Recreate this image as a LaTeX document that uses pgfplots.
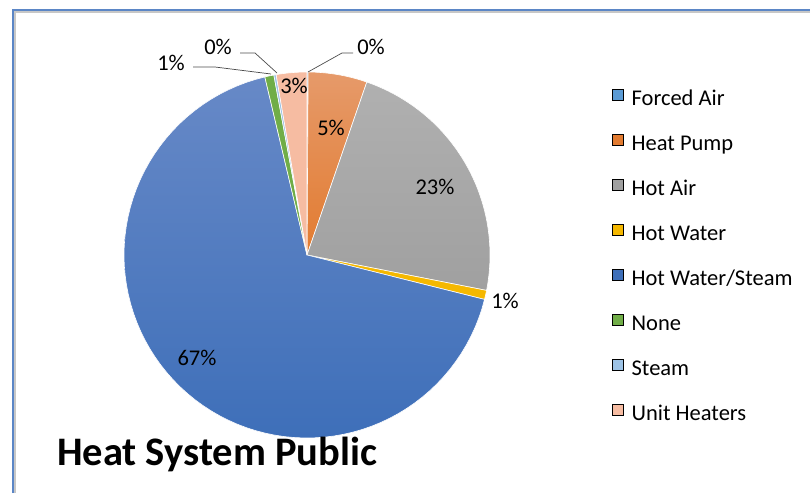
\documentclass[border=0pt]{standalone}
\usepackage{pgfplots}
\pgfplotsset{compat=1.18}
\usepackage{fontspec}
\setmainfont{Carlito}
\definecolor{cforced}{HTML}{5B9BD5}
\definecolor{chp}{HTML}{E27B30}
\definecolor{chpt}{HTML}{E69A6A}
\definecolor{cha}{HTML}{A0A0A0}
\definecolor{chat}{HTML}{B0B0B0}
\definecolor{chw}{HTML}{F5B800}
\definecolor{chws}{HTML}{3E6FB9}
\definecolor{chwst}{HTML}{6789C7}
\definecolor{cnone}{HTML}{70AD47}
\definecolor{csteam}{HTML}{9DC3E6}
\definecolor{cunit}{HTML}{F6BCA2}
\definecolor{cframe}{HTML}{5B86C6}
\def\cx{307}\def\cy{238}\def\R{183}
% #1 = cumulative start (%), #2 = value (%), #3 = style
\newcommand\slice[3]{%
  \addplot[forget plot, #3, draw=white, line width=0.6pt, domain=#1:#1+#2, samples=80, variable=\t]
    ({\cx+\R*sin(3.6*\t)},{\cy+\R*cos(3.6*\t)}) -- (axis cs:\cx,\cy) -- cycle;}
\begin{document}
\begin{tikzpicture}
\begin{axis}[
  width=810pt, height=493pt, scale only axis,
  xmin=0, xmax=810, ymin=0, ymax=493,
  hide axis, clip=false,
  legend style={draw=none, fill=none, at={(axis cs:609,406)}, anchor=north west,
    font=\fontsize{22.5}{27}\selectfont, row sep=23.0pt, column sep=8pt,
    nodes={inner sep=0pt, text height=16pt, text depth=5.5pt}},
  legend cell align=left,
  legend image code/.code={\fill[#1] (4pt,0pt) rectangle (15pt,11pt);},
]
% frame
\draw[color=black!22, line width=1.5pt] (axis cs:15,0) -- (axis cs:15,481) -- (axis cs:810,481);
\draw[color=cframe, line width=2pt] (axis cs:13,0) -- (axis cs:13,482.7) -- (axis cs:810,482.7);
% slices (values in percent): Forced Air 0.1, Heat Pump 5.2, Hot Air 22.8, Hot Water 0.8,
% Hot Water/Steam 67.4, None 0.8, Steam 0.2, Unit Heaters 2.7
\slice{0}{0.1}{fill=cforced}
\slice{0.1}{5.2}{top color=chpt, bottom color=chp}
\slice{5.3}{22.8}{top color=chat, bottom color=cha}
\slice{28.1}{0.8}{fill=chw}
\slice{28.9}{67.4}{top color=chwst, bottom color=chws}
\slice{96.3}{0.8}{fill=cnone}
\slice{97.1}{0.2}{fill=csteam}
\slice{97.3}{2.7}{fill=cunit}
\addlegendimage{fill=cforced}\addlegendentry{Forced Air}
\addlegendimage{fill=chp}\addlegendentry{Heat Pump}
\addlegendimage{fill=cha}\addlegendentry{Hot Air}
\addlegendimage{fill=chw}\addlegendentry{Hot Water}
\addlegendimage{fill=chws}\addlegendentry{Hot Water/Steam}
\addlegendimage{fill=cnone}\addlegendentry{None}
\addlegendimage{fill=csteam}\addlegendentry{Steam}
\addlegendimage{fill=cunit}\addlegendentry{Unit Heaters}
% data labels
\begin{scope}[every node/.style={font=\fontsize{22.5}{27}\selectfont, inner sep=0pt}]
\node at (axis cs:294,407) {3\%};
\node at (axis cs:331,365) {5\%};
\node at (axis cs:435,306) {23\%};
\node at (axis cs:505,192) {1\%};
\node at (axis cs:197,135) {67\%};
\node at (axis cs:371,446) {0\%};
\node at (axis cs:218,446) {0\%};
\node at (axis cs:171,430) {1\%};
\end{scope}
\draw[black!70, line width=0.7pt] (axis cs:308,421) -- (axis cs:342,440) -- (axis cs:353,440);
\draw[black!70, line width=0.7pt] (axis cs:240,440) -- (axis cs:255,440) -- (axis cs:277,420);
\draw[black!70, line width=0.7pt] (axis cs:193,426) -- (axis cs:215,426) -- (axis cs:271,419);
% title
\node[anchor=base west, inner sep=0pt, font=\fontsize{40.5}{44}\selectfont\bfseries] at (axis cs:57,28) {Heat System Public};
\end{axis}
\pgfresetboundingbox
\path[use as bounding box] (0,0) rectangle (810pt,493pt);
\end{tikzpicture}
\end{document}
